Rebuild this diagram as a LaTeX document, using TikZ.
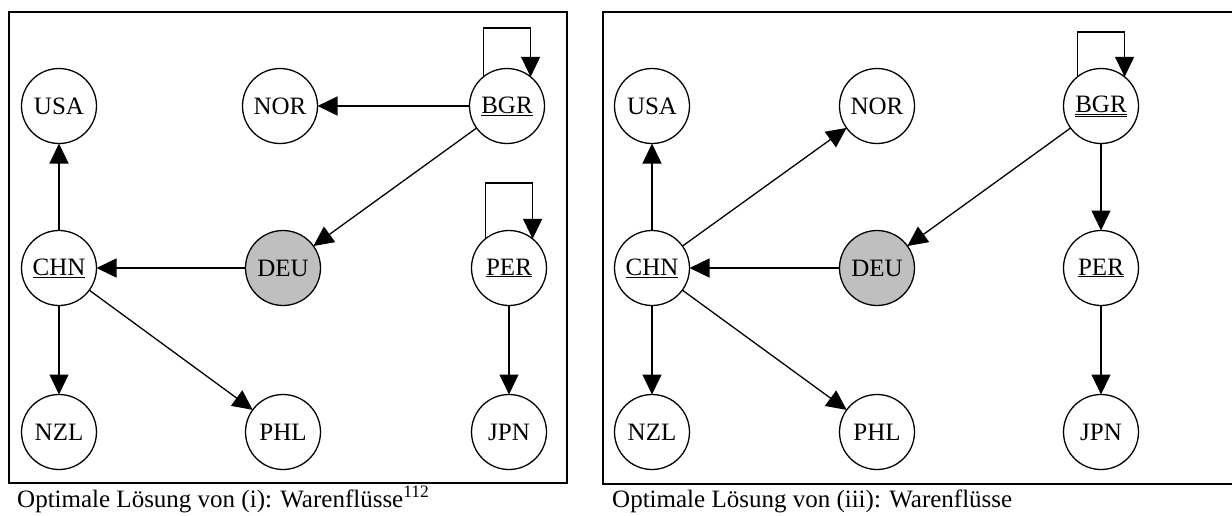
\documentclass[tikz,border=0pt]{standalone}
\usepackage{fontspec}
\setmainfont{Liberation Serif}
\usetikzlibrary{arrows.meta}
\begin{document}
\begin{tikzpicture}[x=1pt,y=-1pt,
  cnode/.style={circle,draw,line width=1.3pt,minimum size=75pt,inner sep=0pt,outer sep=0pt,font=\fontsize{25}{29}\selectfont},
  grey/.style={fill=black!25},
  arr/.style={line width=1.3pt,-{Triangle[length=20pt,width=19pt]}},
  frame/.style={line width=2.3pt},
  captext/.style={anchor=base west,inner sep=0pt,font=\fontsize{25}{30}\selectfont}]
\useasboundingbox (0,0) rectangle (1232,515);
% frames
\draw[frame] (9,12) rectangle (567,483);
\draw[frame] (1234,12) -- (603,12) -- (603,484) -- (1234,484);
% left panel
\node[cnode] (LUSA) at (59,106) {USA};
\node[cnode] (LNOR) at (280,106) {NOR};
\node[cnode] (LBGR) at (507,106) {\underline{BGR}};
\node[cnode] (LCHN) at (59,268) {\underline{CHN}};
\node[cnode,grey] (LDEU) at (283,268) {DEU};
\node[cnode] (LPER) at (509,268) {\underline{PER}};
\node[cnode] (LNZL) at (59,432) {NZL};
\node[cnode] (LPHL) at (283,432) {PHL};
\node[cnode] (LJPN) at (509,432) {JPN};
\draw[arr] (LBGR.129) -- ++(0,-49) -| (LBGR.51);
\draw[arr] (LBGR) -- (LNOR);
\draw[arr] (LBGR) -- (LDEU);
\draw[arr] (LDEU) -- (LCHN);
\draw[arr] (LCHN) -- (LUSA);
\draw[arr] (LCHN) -- (LNZL);
\draw[arr] (LCHN) -- (LPHL);
\draw[arr] (LPER.129) -- ++(0,-56) -| (LPER.51);
\draw[arr] (LPER) -- (LJPN);
% right panel
\node[cnode] (RUSA) at (652,106) {USA};
\node[cnode] (RNOR) at (877,106) {NOR};
\node[cnode] (RBGR) at (1101,106) {\underline{\underline{BGR}}};
\node[cnode] (RCHN) at (652,268) {\underline{CHN}};
\node[cnode,grey] (RDEU) at (877,268) {DEU};
\node[cnode] (RPER) at (1101,268) {\underline{PER}};
\node[cnode] (RNZL) at (652,432) {NZL};
\node[cnode] (RPHL) at (877,432) {PHL};
\node[cnode] (RJPN) at (1101,432) {JPN};
\draw[arr] (RBGR.129) -- ++(0,-45) -| (RBGR.51);
\draw[arr] (RBGR) -- (RDEU);
\draw[arr] (RBGR) -- (RPER);
\draw[arr] (RDEU) -- (RCHN);
\draw[arr] (RCHN) -- (RUSA);
\draw[arr] (RCHN) -- (RNOR);
\draw[arr] (RCHN) -- (RNZL);
\draw[arr] (RCHN) -- (RPHL);
\draw[arr] (RPER) -- (RJPN);
% captions
\node[captext] (cap1) at (17,507) {Optimale Lösung von (i): Warenflüsse\textsuperscript{112}};
\node[captext] (cap2) at (612,507) {Optimale Lösung von (iii): Warenflüsse};
\end{tikzpicture}
\end{document}
